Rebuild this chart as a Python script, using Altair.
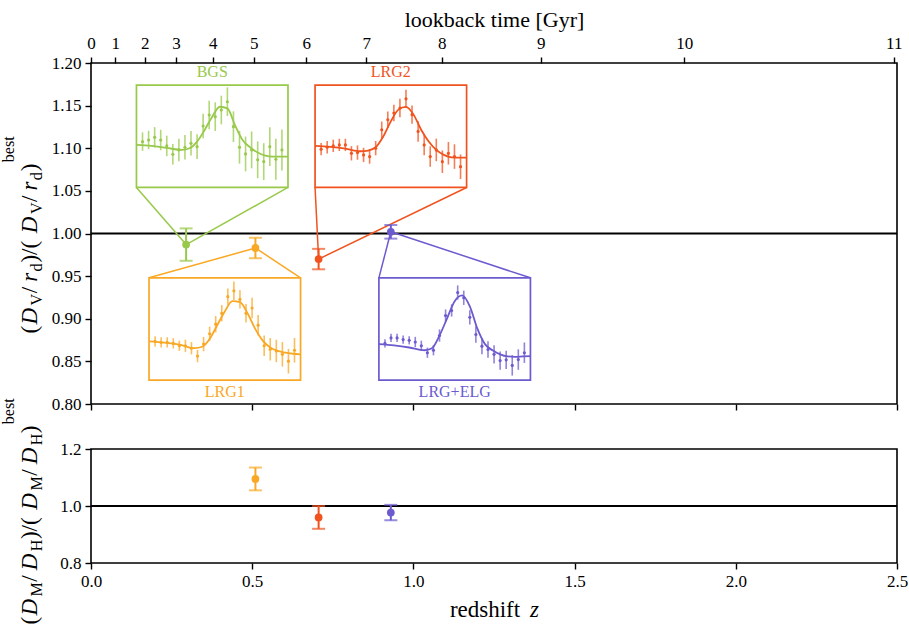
import json
import altair as alt
import pandas as pd

# ---------------------------------------------------------------- data
tracers = ["BGS", "LRG1", "LRG2", "LRG+ELG"]
tracer_colors = ["#98c94a", "#f9a825", "#f0531e", "#6b5bcf"]

# isotropic BAO: (D_V/r_d)/(D_V/r_d)^best
z_eff = [0.295, 0.510, 0.706, 0.930]
dv_ratio = [0.987, 0.983, 0.970, 1.002]
dv_err = [0.019, 0.012, 0.012, 0.008]

# anisotropic BAO: (D_M/D_H)/(D_M/D_H)^best
fap_tracers = ["LRG1", "LRG2", "LRG+ELG"]
fap_z = [0.510, 0.706, 0.930]
fap_ratio = [1.095, 0.960, 0.977]
fap_err = [0.040, 0.040, 0.027]

# secondary axis: lookback time (Gyr) at the redshift where it is reached
lookback_gyr = [0, 1, 2, 3, 4, 5, 6, 7, 8, 9, 10, 11]
lookback_z = [0.0, 0.075, 0.167, 0.264, 0.378, 0.505, 0.668, 0.854, 1.088, 1.395, 1.84, 2.49]

z_ticks = [0.0, 0.5, 1.0, 1.5, 2.0, 2.5]
dv_ticks = [0.80, 0.85, 0.90, 0.95, 1.00, 1.05, 1.10, 1.15, 1.20]
fap_ticks = [0.8, 1.0, 1.2]

# correlation-function multipoles s^2 xi(s) shown in the insets
s_bins = [54, 58, 62, 66, 70, 74, 78, 82, 86, 90, 94, 98,
          102, 106, 110, 114, 118, 122, 126, 130, 134, 138, 142, 146]
s_model = [50, 60, 70, 80, 85, 90, 95, 100, 105, 110, 115, 120, 125, 130, 135, 140, 145, 150]

xi_data = {
    "BGS": [14.8, 16.4, 19.0, 16.4, 10.6, 2.5, 6.7, 9.3, 13.2, 9.9, 30.1, 40.8,
            39.2, 45.7, 53.8, 29.4, 9.3, 2.8, 6.7, -3.0, -4.7, 9.9, -2.4, 6.7],
    "LRG1": [7.9, 6.9, 6.9, 5.9, 3.6, 3.6, 1.2, -6.5, 5.2, 15.3, 24.7, 35.4,
             51.6, 57.3, 48.9, 35.4, 40.5, 23.7, 3.6, 0.2, -1.5, -4.8, -11.5, -0.8],
    "LRG2": [7.4, 9.3, 10.7, 11.6, 11.6, 3.4, 4.1, 1.8, 0.2, 8.4, 26.4, 36.2,
             42.8, 47.7, 56.6, 41.2, 24.8, 11.6, 0.2, 6.7, -4.8, 3.4, 0.2, -9.7],
    "LRG+ELG": [5.9, 11.3, 11.3, 9.6, 8.9, 7.3, 3.6, -3.2, -0.8, 13.6, 33.1, 38.1,
                55.6, 50.5, 31.4, 14.6, 3.2, -0.1, -4.8, -10.9, -10.2, -15.6, -9.9, -3.2],
}
xi_err = {
    "BGS": [9, 9, 10, 10, 10, 10, 11, 12, 12, 12, 12, 14, 14, 14, 14, 15, 16, 17, 18, 18, 18, 19, 20, 20],
    "LRG1": [5, 5, 5, 5, 5, 6, 6, 6, 7, 7, 8, 8, 8, 9, 9, 9, 10, 10, 10, 11, 11, 12, 12, 12],
    "LRG2": [6, 6, 6, 6, 6, 7, 7, 7, 7, 7, 8, 8, 8, 9, 9, 9, 10, 10, 10, 11, 11, 11, 12, 12],
    "LRG+ELG": [4, 4, 4, 4, 4, 5, 5, 5, 5, 6, 6, 6, 7, 7, 7, 8, 8, 8, 9, 9, 9, 10, 10, 10],
}
xi_model = {
    "BGS": [11.6, 10.6, 8.6, 6.7, 8.3, 14.8, 26.2, 39.2, 48.9, 47.3, 31.0, 16.4, 9.3, 4.1, 1.2, 0.2, 0.2, 0.2],
    "LRG1": [7.9, 6.6, 4.6, 1.2, 2.6, 10.3, 23.7, 37.1, 47.2, 46.2, 35.4, 20.3, 8.6, 1.9, -1.5, -3.2, -4.2, -4.8],
    "LRG2": [10.7, 9.7, 8.0, 5.4, 6.1, 9.3, 19.8, 34.6, 46.1, 48.7, 41.2, 26.4, 14.9, 6.7, 1.8, -0.5, -0.8, -0.8],
    "LRG+ELG": [5.2, 3.9, 1.9, -0.8, 1.2, 13.6, 30.4, 47.2, 52.9, 42.2, 20.3, 5.2, -0.8, -4.8, -6.8, -7.2, -6.8, -6.5],
}

# ---------------------------------------------------------------- inset layout
# each inset is drawn inside a box given in (z, ratio) units of the upper panel
S_RANGE = (50.0, 150.0)
XI_RANGE = (-30.0, 70.0)
inset_boxes = {
    "BGS": (0.141, 0.611, 1.054, 1.174, "above"),
    "LRG1": (0.180, 0.650, 0.828, 0.948, "below"),
    "LRG2": (0.695, 1.165, 1.054, 1.174, "above"),
    "LRG+ELG": (0.893, 1.363, 0.828, 0.948, "below"),
}


def to_panel(name, s, xi):
    z0, z1, r0, r1, _ = inset_boxes[name]
    zz = z0 + (s - S_RANGE[0]) / (S_RANGE[1] - S_RANGE[0]) * (z1 - z0)
    rr = r0 + (xi - XI_RANGE[0]) / (XI_RANGE[1] - XI_RANGE[0]) * (r1 - r0)
    return zz, rr


pt_rows, curve_rows, box_rows, conn_rows, lab_rows = [], [], [], [], []
for i, name in enumerate(tracers):
    z0, z1, r0, r1, side = inset_boxes[name]
    for s, v, e in zip(s_bins, xi_data[name], xi_err[name]):
        zz, rr = to_panel(name, s, v)
        _, lo = to_panel(name, s, v - e)
        _, hi = to_panel(name, s, v + e)
        pt_rows.append({"tracer": name, "z": zz, "r": rr, "lo": lo, "hi": hi})
    for s, v in zip(s_model, xi_model[name]):
        zz, rr = to_panel(name, s, v)
        curve_rows.append({"tracer": name, "s": s, "z": zz, "r": rr})
    box_rows.append({"tracer": name, "z0": z0, "z1": z1, "r0": r0, "r1": r1})
    edge = r0 if side == "above" else r1
    for cz in (z0, z1):
        conn_rows.append({"tracer": name, "cz": cz, "cr": edge, "pz": z_eff[i], "pr": dv_ratio[i]})
    lab_rows.append({"tracer": name, "zc": (z0 + z1) / 2,
                     "ra": r1 if side == "above" else r0, "side": side})

inset_pts = pd.DataFrame(pt_rows)
inset_curves = pd.DataFrame(curve_rows)
inset_box_df = pd.DataFrame(box_rows)
conn_df = pd.DataFrame(conn_rows)
lab_df = pd.DataFrame(lab_rows)

dv_df = pd.DataFrame({
    "tracer": tracers, "z": z_eff, "ratio": dv_ratio,
    "lo": [v - e for v, e in zip(dv_ratio, dv_err)],
    "hi": [v + e for v, e in zip(dv_ratio, dv_err)],
})
fap_df = pd.DataFrame({
    "tracer": fap_tracers, "z": fap_z, "ratio": fap_ratio,
    "lo": [v - e for v, e in zip(fap_ratio, fap_err)],
    "hi": [v + e for v, e in zip(fap_ratio, fap_err)],
})
unity = pd.DataFrame({"ratio": [1.0]})

# ---------------------------------------------------------------- styling helpers
SERIF = "Liberation Serif"
W_PANEL = 806
H_TOP = 341
H_BOT = 114

xs = alt.Scale(domain=[0, 2.5], nice=False, zero=False)
ys_top = alt.Scale(domain=[0.8, 1.2], nice=False, zero=False)
ys_bot = alt.Scale(domain=[0.8, 1.2], nice=False, zero=False)
cscale = alt.Scale(domain=tracers, range=tracer_colors)
color = alt.Color("tracer:N", scale=cscale, legend=None)

# advance widths (em) used to lay out the math-style axis titles
ADV = {"(": 0.389, ")": 0.389, "/": 0.5, "D": 0.828, "r": 0.451, "V": 0.75,
       "d": 0.556, "M": 0.917, "H": 0.75, "b": 0.556, "e": 0.444, "s": 0.394, "t": 0.389}


def math_title(parts, center, base, fs=23):
    """Rotated title assembled piece by piece; kind is up / it / sub / sup."""
    size = {"up": fs, "it": fs, "sub": 0.7 * fs, "sup": 0.7 * fs}
    shift = {"up": 0.0, "it": 0.0, "sub": 0.22 * fs, "sup": -1.0 * fs}
    widths = [sum(ADV[c] for c in txt) * size[k] for txt, k in parts]
    y = center + sum(widths) / 2
    layers = []
    for (txt, k), w in zip(parts, widths):
        layers.append(
            alt.Chart(pd.DataFrame({"seg": [txt]})).mark_text(
                angle=270, align="left", baseline="alphabetic", font=SERIF,
                fontSize=size[k], fontStyle="italic" if k == "it" else "normal",
                color="black")
            .encode(text="seg:N", x=alt.value(base + shift[k]), y=alt.value(y))
        )
        y -= w
    return layers


top_title = math_title(
    [("(", "up"), ("D", "it"), ("V", "sub"), ("/", "up"), ("r", "it"), ("d", "sub"),
     (")/(", "up"), ("D", "it"), ("V", "sub"), ("/", "up"), ("r", "it"), ("d", "sub"),
     (")", "up"), ("best", "sup")],
    center=H_TOP / 2, base=-54)
bot_title = math_title(
    [("(", "up"), ("D", "it"), ("M", "sub"), ("/", "up"), ("D", "it"), ("H", "sub"),
     (")/(", "up"), ("D", "it"), ("M", "sub"), ("/", "up"), ("D", "it"), ("H", "sub"),
     (")", "up"), ("best", "sup")],
    center=H_BOT / 2 + 4, base=-54)

lookback_expr = "{}[indexof({}, datum.value)]".format(
    json.dumps([str(t) for t in lookback_gyr]), json.dumps(lookback_z))

top_axis = alt.Axis(orient="top", values=lookback_z, labelExpr=lookback_expr,
                    title="lookback time [Gyr]", titleFontSize=22, titlePadding=3,
                    labelPadding=5, labelFlush=False, labelOverlap=False)
top_panel_bottom_axis = alt.Axis(orient="bottom", values=z_ticks, labels=False, title=None)

# ---------------------------------------------------------------- upper panel
unity_top = alt.Chart(unity).mark_rule(color="black", strokeWidth=1.9).encode(
    y=alt.Y("ratio:Q", scale=ys_top, axis=None))

connectors = alt.Chart(conn_df).mark_rule(strokeWidth=1.5).encode(
    x=alt.X("cz:Q", scale=xs, axis=None), y=alt.Y("cr:Q", scale=ys_top, axis=None),
    x2="pz:Q", y2="pr:Q", color=color)

boxes = alt.Chart(inset_box_df).mark_rect(fillOpacity=0, strokeWidth=1.7).encode(
    x=alt.X("z0:Q", scale=xs, axis=top_axis), x2="z1:Q",
    y=alt.Y("r0:Q", scale=ys_top, axis=None), y2="r1:Q",
    stroke=alt.Stroke("tracer:N", scale=cscale, legend=None))

labels_above = alt.Chart(lab_df[lab_df["side"] == "above"]).mark_text(
    baseline="bottom", dy=-5, font=SERIF, fontSize=16).encode(
    x=alt.X("zc:Q", scale=xs, axis=None), y=alt.Y("ra:Q", scale=ys_top, axis=None),
    text="tracer:N", color=color)
labels_below = alt.Chart(lab_df[lab_df["side"] == "below"]).mark_text(
    baseline="top", dy=4, font=SERIF, fontSize=16).encode(
    x=alt.X("zc:Q", scale=xs, axis=None), y=alt.Y("ra:Q", scale=ys_top, axis=None),
    text="tracer:N", color=color)

inset_bars = alt.Chart(inset_pts).mark_rule(strokeWidth=1.6, opacity=0.75).encode(
    x=alt.X("z:Q", scale=xs, axis=None), y=alt.Y("lo:Q", scale=ys_top, axis=None),
    y2="hi:Q", color=color)
inset_dots = alt.Chart(inset_pts).mark_circle(size=10, opacity=1).encode(
    x=alt.X("z:Q", scale=xs, axis=None), y=alt.Y("r:Q", scale=ys_top, axis=None),
    color=color)
inset_lines = alt.Chart(inset_curves).mark_line(strokeWidth=1.8, interpolate="monotone").encode(
    x=alt.X("z:Q", scale=xs, axis=None), y=alt.Y("r:Q", scale=ys_top, axis=None),
    color=color, order="s:Q")

dv_bars = alt.Chart(dv_df).mark_errorbar(ticks=True, size=13, thickness=2).encode(
    x=alt.X("z:Q", scale=xs, axis=None),
    y=alt.Y("lo:Q", scale=ys_top, axis=None), y2="hi:Q", color=color)
dv_pts = alt.Chart(dv_df).mark_circle(size=60, opacity=1).encode(
    x=alt.X("z:Q", scale=xs, axis=top_panel_bottom_axis),
    y=alt.Y("ratio:Q", scale=ys_top,
            axis=alt.Axis(orient="left", values=dv_ticks, format=".2f", title=None,
                          labelOverlap=False)),
    color=color)

upper = alt.layer(
    unity_top, connectors, boxes, labels_above, labels_below,
    inset_bars, inset_lines, inset_dots, dv_bars, dv_pts, *top_title
).resolve_axis(x="independent", y="independent").properties(width=W_PANEL, height=H_TOP)

# ---------------------------------------------------------------- lower panel
unity_bot = alt.Chart(unity).mark_rule(color="black", strokeWidth=1.9).encode(
    y=alt.Y("ratio:Q", scale=ys_bot, axis=None))
fap_bars = alt.Chart(fap_df).mark_errorbar(ticks=True, size=13, thickness=2).encode(
    x=alt.X("z:Q", scale=xs, axis=None),
    y=alt.Y("lo:Q", scale=ys_bot, axis=None), y2="hi:Q", color=color)
fap_pts = alt.Chart(fap_df).mark_circle(size=60, opacity=1).encode(
    x=alt.X("z:Q", scale=xs,
            axis=alt.Axis(orient="bottom", values=z_ticks, format=".1f", title=None,
                          labelFlush=False, labelOverlap=False)),
    y=alt.Y("ratio:Q", scale=ys_bot,
            axis=alt.Axis(orient="left", values=fap_ticks, format=".1f", title=None,
                          labelOverlap=False)),
    color=color)

x_word = alt.Chart(pd.DataFrame({"seg": ["redshift"]})).mark_text(
    font=SERIF, fontSize=23, align="center", baseline="alphabetic", color="black").encode(
    text="seg:N", x=alt.value(394), y=alt.value(168))
x_sym = alt.Chart(pd.DataFrame({"seg": ["z"]})).mark_text(
    font=SERIF, fontSize=23, fontStyle="italic", align="left", baseline="alphabetic",
    color="black").encode(text="seg:N", x=alt.value(439), y=alt.value(168))

lower = alt.layer(
    unity_bot, fap_bars, fap_pts, x_word, x_sym, *bot_title
).resolve_axis(x="independent", y="independent").properties(width=W_PANEL, height=H_BOT)

chart = alt.vconcat(upper, lower, spacing=45, bounds="flush").properties(
    padding={"left": 0, "top": 7, "right": 0, "bottom": 3}
).configure_axis(
    labelFont=SERIF, titleFont=SERIF, labelFontSize=17, labelColor="black",
    titleColor="black", titleFontWeight="normal", tickColor="black", tickWidth=1.4,
    tickSize=6, domain=False, grid=False, labelPadding=4
).configure_view(stroke="black", strokeWidth=1.6)

chart.save("out.html", embed_options={"renderer": "svg", "actions": False})
